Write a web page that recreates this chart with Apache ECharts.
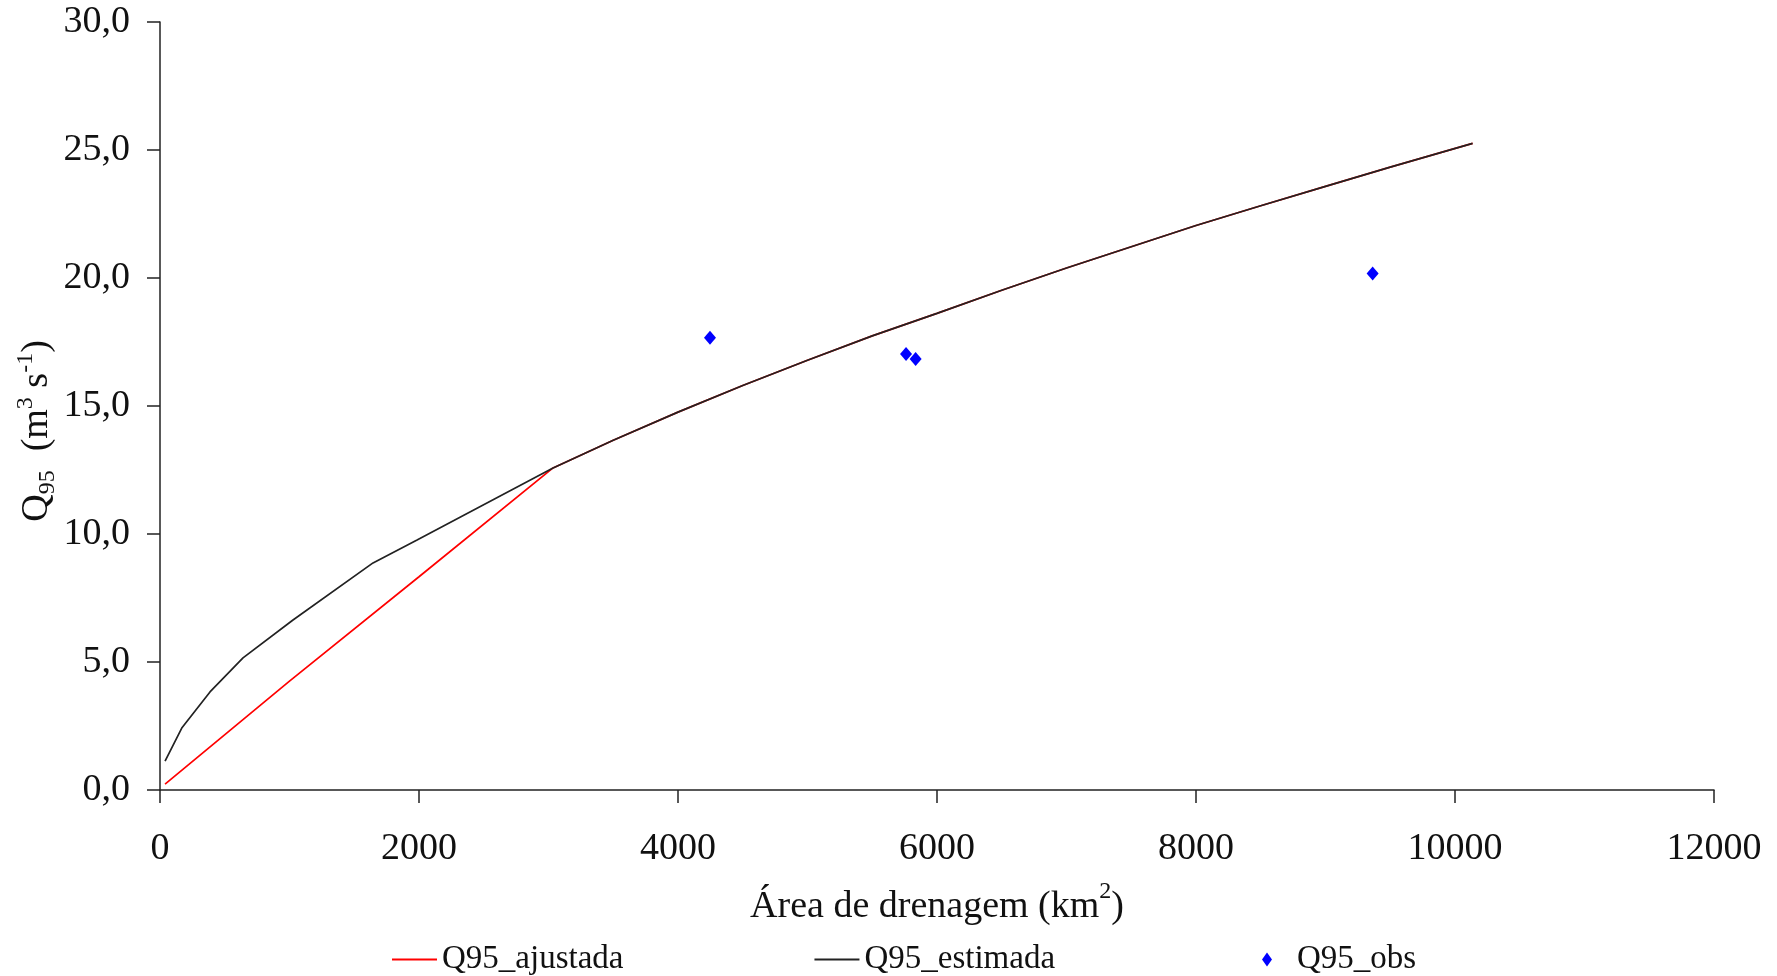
<!DOCTYPE html>
<html>
<head>
<meta charset="utf-8">
<script src="https://cdn.jsdelivr.net/npm/echarts@6/dist/echarts.min.js"></script>
<style>html,body{margin:0;padding:0;background:#fff}#c{width:1777px;height:976px}</style>
</head>
<body>
<div id="c"></div>
<script>
// Q95_estimada (black line)
const estX = [39, 168, 386, 641, 1027, 1645, 1985, 3035, 3500, 4000, 4500, 5000, 5500, 6000, 6500, 7000, 7500, 8000, 8500, 9000, 9500, 10136];
const estY = [1.13, 2.42, 3.83, 5.16, 6.64, 8.87, 9.77, 12.58, 13.66, 14.76, 15.8, 16.79, 17.74, 18.62, 19.52, 20.39, 21.22, 22.05, 22.82, 23.58, 24.33, 25.26];
// Q95_ajustada (red line)
const adjX = [39, 1000, 2000, 3035, 3500, 4000, 4500, 5000, 5500, 6000, 6500, 7000, 7500, 8000, 8500, 9000, 9500, 10136];
const adjY = [0.23, 4.25, 8.33, 12.58, 13.66, 14.76, 15.8, 16.79, 17.74, 18.62, 19.52, 20.39, 21.22, 22.05, 22.82, 23.58, 24.33, 25.26];
// Q95_obs (blue diamonds)
const obsX = [4247, 5761, 5835, 9364];
const obsY = [17.67, 17.03, 16.84, 20.18];
// axis ticks
const xTicks = [0, 2000, 4000, 6000, 8000, 10000, 12000];
const yTicks = [0, 5, 10, 15, 20, 25, 30];

const FONT = 'Liberation Serif';
const zip = (a, b) => a.map((v, i) => [v, b[i]]);

const chart = echarts.init(document.getElementById('c'));
chart.setOption({
  backgroundColor: '#fff',
  animation: false,
  grid: { left: 160, right: 63, top: 22, bottom: 186, containLabel: false },
  xAxis: {
    type: 'value',
    min: xTicks[0], max: xTicks[xTicks.length - 1], interval: 2000,
    splitLine: { show: false },
    axisLine: { lineStyle: { color: '#222', width: 1.5 } },
    axisTick: { show: true, length: 13, lineStyle: { color: '#222', width: 1.5 } },
    axisLabel: { color: '#111', fontFamily: FONT, fontSize: 38, margin: 40, formatter: v => String(v) },
    name: '{b|Área de drenagem (km}{sup|2}{b|)}',
    nameLocation: 'middle',
    nameGap: 90,
    nameTextStyle: {
      rich: {
        b: { fontFamily: FONT, fontSize: 38, color: '#111', lineHeight: 46, verticalAlign: 'bottom' },
        sup: { fontFamily: FONT, fontSize: 24, color: '#111', lineHeight: 46, verticalAlign: 'top' }
      }
    }
  },
  yAxis: {
    type: 'value',
    min: yTicks[0], max: yTicks[yTicks.length - 1], interval: 5,
    splitLine: { show: false },
    axisLine: { lineStyle: { color: '#222', width: 1.5 } },
    axisTick: { show: true, length: 13, lineStyle: { color: '#222', width: 1.5 } },
    axisLabel: {
      color: '#111', fontFamily: FONT, fontSize: 38, margin: 30,
      formatter: v => v.toFixed(1).replace('.', ',')
    },
    name: '{b|Q}{sub|95}{b|  (m}{sup|3}{b| s}{sup|-1}{b|)}',
    nameLocation: 'middle',
    nameMoveOverlap: false,
    nameGap: 100,
    nameRotate: 90,
    nameTextStyle: {
      padding: [0, 50, 0, 0],
      rich: {
        b: { fontFamily: FONT, fontSize: 38, color: '#111', lineHeight: 46, verticalAlign: 'middle' },
        sub: { fontFamily: FONT, fontSize: 24, color: '#111', lineHeight: 46, verticalAlign: 'bottom' },
        sup: { fontFamily: FONT, fontSize: 24, color: '#111', lineHeight: 46, verticalAlign: 'top' }
      }
    }
  },
  legend: [
    {
      left: 386, top: 938,
      itemWidth: 45, itemHeight: 14, itemGap: 190,
      textStyle: { fontFamily: FONT, fontSize: 33, color: '#111' },
      data: [
        { name: 'Q95_ajustada', itemStyle: { opacity: 0 } },
        { name: 'Q95_estimada', itemStyle: { opacity: 0 } }
      ]
    },
    {
      left: 1257, top: 938,
      itemWidth: 10, itemHeight: 14,
      textStyle: { fontFamily: FONT, fontSize: 33, color: '#111', padding: [0, 0, 0, 20] },
      data: ['Q95_obs']
    }
  ],
  series: [
    {
      name: 'Q95_ajustada', type: 'line', data: zip(adjX, adjY),
      symbol: 'none', lineStyle: { color: '#ff0000', width: 1.7 }, itemStyle: { color: '#ff0000' }, z: 2
    },
    {
      name: 'Q95_estimada', type: 'line', data: zip(estX, estY),
      symbol: 'none', lineStyle: { color: '#222', width: 1.7 }, itemStyle: { color: '#222' }, z: 3
    },
    {
      name: 'Q95_obs', type: 'scatter', data: zip(obsX, obsY),
      symbol: 'diamond', symbolSize: [12, 14], itemStyle: { color: '#0000ff', opacity: 1 }, z: 4
    }
  ]
});
</script>
</body>
</html>
